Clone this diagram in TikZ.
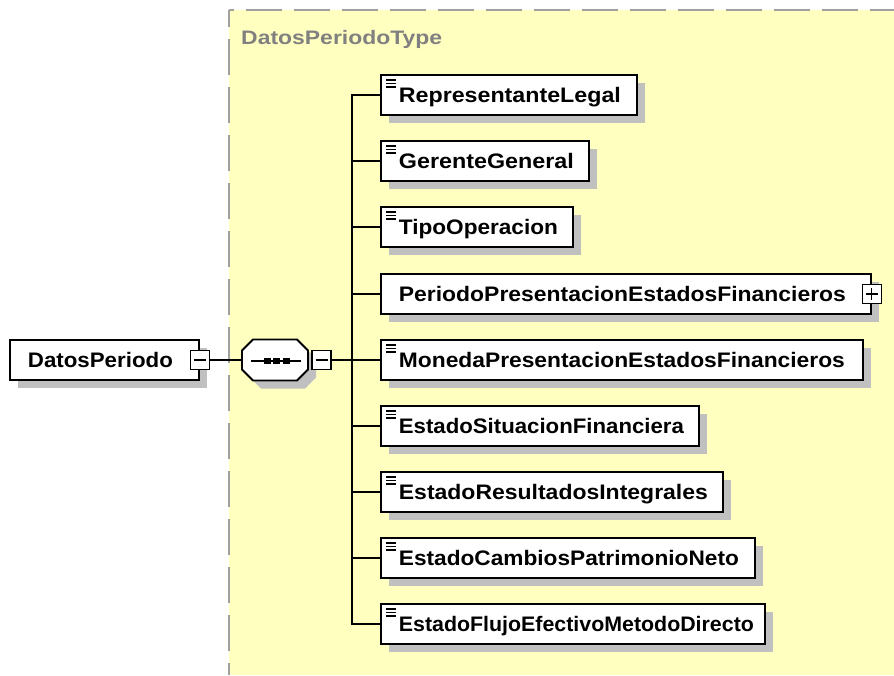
\documentclass[tikz,border=0pt]{standalone}
\usepackage{fontspec}
\setmainfont{Liberation Sans}
\usepackage{graphicx}
\usetikzlibrary{shadows}
\definecolor{areafill}{RGB}{255,255,192}
\definecolor{areadash}{RGB}{160,160,160}
\definecolor{shadowgray}{RGB}{192,192,192}
\definecolor{titlegray}{RGB}{128,128,128}
\newcommand\fitw[2]{\resizebox{#1pt}{\height}{#2}}
\tikzset{
  shadowed/.style={drop shadow={shadow xshift=8pt, shadow yshift=-8pt, fill=shadowgray, opacity=1}},
  elem/.style={draw=black, line width=1.8pt, fill=white, anchor=west,
    minimum height=40pt, inner xsep=0pt, inner ysep=0pt, text width=#1pt,
    align=left, text height=15pt, text depth=0pt,
    font=\fontsize{21}{24}\selectfont\bfseries, shadowed},
  simple/.style={path picture={
    \foreach \yy in {5,8.5,12}{
      \draw[line width=1.3pt] ([xshift=5.5pt,yshift=-\yy pt]path picture bounding box.north west) -- ++(9.5pt,0pt);}}},
  expander/.style={draw=black, line width=1.4pt, fill=white, minimum width=19pt,
    minimum height=19pt, inner sep=0pt},
  collapsebox/.style={expander, path picture={
    \draw[line width=1.3pt] ([xshift=-6pt]path picture bounding box.center) -- ([xshift=6pt]path picture bounding box.center);}},
  expandbox/.style={expander, path picture={
    \draw[line width=1.3pt] ([xshift=-6pt]path picture bounding box.center) -- ([xshift=6pt]path picture bounding box.center);
    \draw[line width=1.3pt] ([yshift=-6pt]path picture bounding box.center) -- ([yshift=6pt]path picture bounding box.center);}},
  conn/.style={draw=black, line width=1.6pt},
  areadashed/.style={areadash, line width=2pt, dash pattern=on 36pt off 12pt},
}
\begin{document}
\begin{tikzpicture}[x=1pt,y=-1pt]
\useasboundingbox (0,0) rectangle (894,675);
% complex type area
\fill[areafill] (229,10) rectangle (894,675);
\draw[areadashed, dash phase=19pt] (229,10) -- (229,675);
\draw[areadashed, dash phase=31pt] (229,10) -- (894,10);
\node[anchor=base west, inner sep=0pt, text=titlegray,
  font=\fontsize{19.5}{22}\selectfont\bfseries] (ttl) at (241,44) {\fitw{201}{DatosPeriodoType}};

% root element
\node[elem=189] (dp) at (9,360) {\hspace*{18pt}\fitw{145}{DatosPeriodo}};
\node[collapsebox] (dpx) at (dp.east) {};

% sequence compositor
\node[inner sep=0pt, minimum width=66pt, minimum height=41pt] (seq) at (275,360) {};
\begin{scope}[shift={(8pt,-8pt)}]
\fill[shadowgray] (253,339.5) -- (297,339.5) -- (308,350.5) -- (308,369.5) -- (297,380.5) -- (253,380.5) -- (242,369.5) -- (242,350.5) -- cycle;
\end{scope}
\filldraw[fill=white, draw=black, line width=1.8pt] (253,339.5) -- (297,339.5) -- (308,350.5) -- (308,369.5) -- (297,380.5) -- (253,380.5) -- (242,369.5) -- (242,350.5) -- cycle;
\draw[line width=1.6pt] (251,361) -- (301,361);
\fill (263.5,358) rectangle (270.5,364);
\fill (273,358) rectangle (280,364);
\fill (282.5,358) rectangle (289.5,364);
\node[collapsebox] (seqx) at (321.5,360) {};
\coordinate (bus) at (352,360);

% children
\node[elem=256, simple] (c1) at (380,95) {\hspace*{18pt}\fitw{222}{RepresentanteLegal}};
\node[elem=208, simple] (c2) at (380,161) {\hspace*{18pt}\fitw{175}{GerenteGeneral}};
\node[elem=192, simple] (c3) at (380,227) {\hspace*{18pt}\fitw{159}{TipoOperacion}};
\node[elem=490] (c4) at (380,294) {\hspace*{18pt}\fitw{447}{PeriodoPresentacionEstadosFinancieros}};
\node[expandbox] (c4x) at (c4.east) {};
\node[elem=482, simple] (c5) at (380,360) {\hspace*{18pt}\fitw{446}{MonedaPresentacionEstadosFinancieros}};
\node[elem=318, simple] (c6) at (380,426) {\hspace*{18pt}\fitw{285}{EstadoSituacionFinanciera}};
\node[elem=342, simple] (c7) at (380,492) {\hspace*{18pt}\fitw{309}{EstadoResultadosIntegrales}};
\node[elem=374, simple] (c8) at (380,558) {\hspace*{18pt}\fitw{340}{EstadoCambiosPatrimonioNeto}};
\node[elem=384, simple] (c9) at (380,624) {\hspace*{18pt}\fitw{355}{EstadoFlujoEfectivoMetodoDirecto}};

% connectors
\draw[conn] (dpx.east) -- (seq.west);
\draw[conn] (seqx.east) -- (bus);
\draw[conn] (c1.west) -- (c1.west -| bus) -- (c9.west -| bus) -- (c9.west);
\foreach \n in {c2,c3,c4,c5,c6,c7,c8}{\draw[conn] (\n.west) -- (\n.west -| bus);}
\end{tikzpicture}
\end{document}
